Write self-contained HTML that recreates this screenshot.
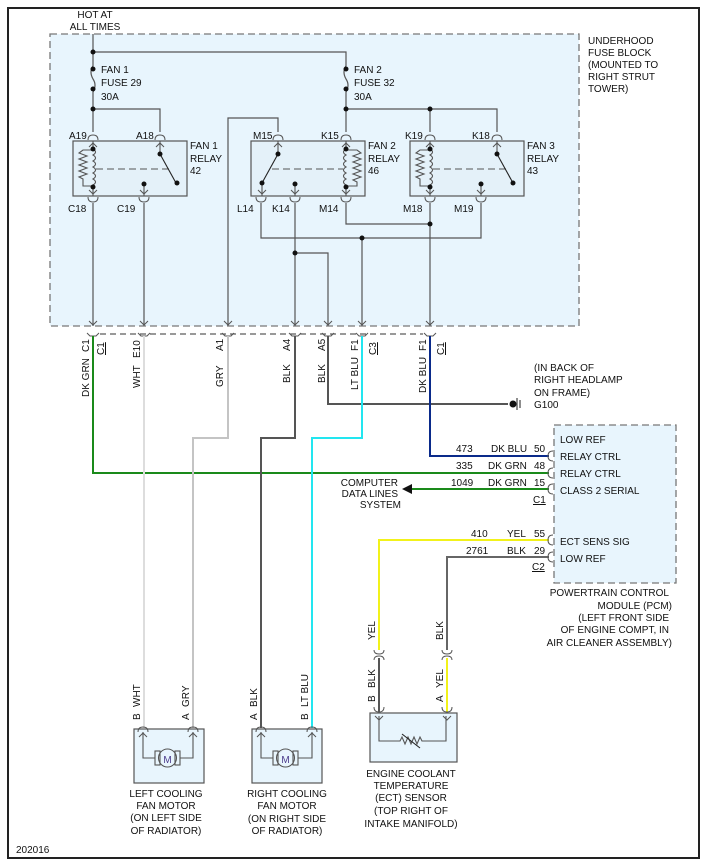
<!DOCTYPE html>
<html><head><meta charset="utf-8"><style>
html,body{margin:0;padding:0;background:#fff}
svg{display:block}
text{font-family:"Liberation Sans",sans-serif;font-size:10px;fill:#111}
</style></head><body>
<svg width="710" height="866" viewBox="0 0 710 866" xmlns="http://www.w3.org/2000/svg">
<defs>
<g id="ct"><path d="M-5,4 Q-5,-1 0,-1 Q5,-1 5,4" fill="none" stroke="#555" stroke-width="1"/></g>
<g id="cb"><path d="M-5,-4 Q-5,1 0,1 Q5,1 5,-4" fill="none" stroke="#555" stroke-width="1"/></g>
<g id="au"><path d="M-4,4 L0,0 L4,4" fill="none" stroke="#555" stroke-width="1"/></g>
<g id="ad"><path d="M-4,-4 L0,0 L4,-4" fill="none" stroke="#555" stroke-width="1"/></g>
</defs>
<rect x="8" y="8" width="691" height="850" fill="#fff" stroke="#222" stroke-width="2"/>
<rect x="50" y="34" width="529" height="292" fill="#e8f5fd" stroke="#777" stroke-width="1.3" stroke-dasharray="7,4"/>
<text x="95" y="18" text-anchor="middle">HOT AT</text>
<text x="95" y="30" text-anchor="middle">ALL TIMES</text>
<text x="588" y="44">UNDERHOOD</text>
<text x="588" y="56">FUSE BLOCK</text>
<text x="588" y="68">(MOUNTED TO</text>
<text x="588" y="80">RIGHT STRUT</text>
<text x="588" y="92">TOWER)</text>

<g stroke="#555" stroke-width="1.2" fill="none">
<path d="M93,34 V66 M93,92 V132 M93,52 H346 V66 M346,92 V132 M93,109 H160 V132 M346,109 H497 V132 M430,109 V132"/>
<path d="M93,66 Q89,72 93,79 Q97,85 93,92 M346,66 Q342,72 346,79 Q350,85 346,92"/>
<path d="M93,203 V326 M144,203 V326 M278,132 V118 H228 V326 M295,203 V326 M295,253 H328 V326 M261,203 V238 H481 V203 M362,238 V326 M346,203 V224 H430 M430,203 V326"/>
</g>
<g fill="#111">
<circle cx="93" cy="52" r="2.5"/><circle cx="93" cy="69" r="2.5"/><circle cx="93" cy="89" r="2.5"/><circle cx="93" cy="109" r="2.5"/>
<circle cx="346" cy="69" r="2.5"/><circle cx="346" cy="89" r="2.5"/><circle cx="346" cy="109" r="2.5"/><circle cx="430" cy="109" r="2.5"/>
<circle cx="362" cy="238" r="2.5"/><circle cx="295" cy="253" r="2.5"/><circle cx="430" cy="224" r="2.5"/>
</g>
<text x="101" y="73">FAN 1</text><text x="101" y="86">FUSE 29</text><text x="101" y="100">30A</text>
<text x="354" y="73">FAN 2</text><text x="354" y="86">FUSE 32</text><text x="354" y="100">30A</text>

<g fill="#e4f1f9" stroke="#555" stroke-width="1.2">
<rect x="73" y="141" width="114" height="55"/>
<rect x="251" y="141" width="114" height="55"/>
<rect x="410" y="141" width="114" height="55"/>
</g>
<g stroke="#555" stroke-width="1.1" fill="none">
<path d="M93,141 V149 M93,187 V196 M160,141 V154 M144,184 V196"/>
<path d="M93,149 q5,3 0,6 q5,3 0,6 q5,3 0,6 q5,3 0,6 q5,3 0,6 q5,3 0,6 V187"/>
<path d="M93,150 H83 l-4,3 8,3 -8,3 8,3 -8,3 8,3 -8,3 8,3 -8,3 4,2 V186 H93"/>
<path d="M96,169 H170" stroke-dasharray="7,4"/>
<path d="M160,154 L176,183" stroke="#222"/>
<path d="M278,141 V154 M262,183 V196 M295,184 V196 M346,141 V149 M346,187 V196"/>
<path d="M346,149 q-5,3 0,6 q-5,3 0,6 q-5,3 0,6 q-5,3 0,6 q-5,3 0,6 q-5,3 0,6 V187"/>
<path d="M346,150 H357 l4,3 -8,3 8,3 -8,3 8,3 -8,3 8,3 -8,3 8,3 -8,3 4,2 V186 H346"/>
<path d="M272,169 H343" stroke-dasharray="7,4"/>
<path d="M278,154 L262,183" stroke="#222"/>
<path d="M430,141 V149 M430,187 V196 M497,141 V154 M481,184 V196"/>
<path d="M430,149 q5,3 0,6 q5,3 0,6 q5,3 0,6 q5,3 0,6 q5,3 0,6 q5,3 0,6 V187"/>
<path d="M430,150 H420 l-4,3 8,3 -8,3 8,3 -8,3 8,3 -8,3 8,3 -8,3 4,2 V186 H430"/>
<path d="M433,169 H507" stroke-dasharray="7,4"/>
<path d="M497,154 L513,183" stroke="#222"/>
</g>
<g fill="#111">
<circle cx="93" cy="149" r="2.5"/><circle cx="93" cy="187" r="2.5"/><circle cx="160" cy="154" r="2.5"/><circle cx="177" cy="183" r="2.5"/><circle cx="144" cy="184" r="2.5"/>
<circle cx="346" cy="149" r="2.5"/><circle cx="346" cy="187" r="2.5"/><circle cx="278" cy="154" r="2.5"/><circle cx="262" cy="183" r="2.5"/><circle cx="295" cy="184" r="2.5"/>
<circle cx="430" cy="149" r="2.5"/><circle cx="430" cy="187" r="2.5"/><circle cx="497" cy="154" r="2.5"/><circle cx="513" cy="183" r="2.5"/><circle cx="481" cy="184" r="2.5"/>
</g>
<use href="#ct" x="93" y="136"/><use href="#ct" x="160" y="136"/><use href="#ct" x="278" y="136"/><use href="#ct" x="346" y="136"/><use href="#ct" x="430" y="136"/><use href="#ct" x="497" y="136"/>
<use href="#au" x="93" y="143"/><use href="#au" x="160" y="143"/><use href="#au" x="278" y="143"/><use href="#au" x="346" y="143"/><use href="#au" x="430" y="143"/><use href="#au" x="497" y="143"/>
<use href="#ad" x="93" y="194"/><use href="#ad" x="144" y="194"/><use href="#ad" x="262" y="194"/><use href="#ad" x="295" y="194"/><use href="#ad" x="346" y="194"/><use href="#ad" x="430" y="194"/><use href="#ad" x="481" y="194"/>
<use href="#cb" x="93" y="201"/><use href="#cb" x="144" y="201"/><use href="#cb" x="261" y="201"/><use href="#cb" x="295" y="201"/><use href="#cb" x="346" y="201"/><use href="#cb" x="430" y="201"/><use href="#cb" x="481" y="201"/>
<text x="69" y="139">A19</text><text x="136" y="139">A18</text><text x="253" y="139">M15</text><text x="321" y="139">K15</text><text x="405" y="139">K19</text><text x="472" y="139">K18</text>
<text x="68" y="212">C18</text><text x="117" y="212">C19</text><text x="237" y="212">L14</text><text x="272" y="212">K14</text><text x="319" y="212">M14</text><text x="403" y="212">M18</text><text x="454" y="212">M19</text>
<text x="190" y="149">FAN 1</text><text x="190" y="162">RELAY</text><text x="190" y="174">42</text>
<text x="368" y="149">FAN 2</text><text x="368" y="162">RELAY</text><text x="368" y="174">46</text>
<text x="527" y="149">FAN 3</text><text x="527" y="162">RELAY</text><text x="527" y="174">43</text>

<g>
<use href="#ad" x="93" y="325"/><use href="#ad" x="144" y="325"/><use href="#ad" x="228" y="325"/><use href="#ad" x="295" y="325"/><use href="#ad" x="328" y="325"/><use href="#ad" x="362" y="325"/><use href="#ad" x="430" y="325"/>
</g>
<path d="M100,334 H423" stroke="#333" stroke-width="1" stroke-dasharray="6,4" fill="none"/>
<g fill="none" stroke="#555" stroke-width="1">
<path d="M87,333 L90,336 H96 L99,333 M138,333 L141,336 H147 L150,333 M222,333 L225,336 H231 L234,333 M289,333 L292,336 H298 L301,333 M322,333 L325,336 H331 L334,333 M356,333 L359,336 H365 L368,333 M424,333 L427,336 H433 L436,333"/>
</g>

<g fill="none" stroke-width="2">
<path d="M93,336 V473 H549" stroke="#1a8a1a"/>
<path d="M549,489 H412" stroke="#1a8a1a"/>
<path d="M144,336 V728" stroke="#ddd"/>
<path d="M228,336 V438 H193 V728" stroke="#c4c4c4"/>
<path d="M295,336 V438 H261 V728" stroke="#555"/>
<path d="M328,336 V404 H508" stroke="#555"/>
<path d="M362,336 V438 H312 V728" stroke="#22e6f0"/>
<path d="M430,336 V456 H549" stroke="#0a2a8a"/>
<path d="M549,540 H379 V650" stroke="#f2f21a"/>
<path d="M549,557 H447 V650" stroke="#666"/>
<path d="M379,658 V712" stroke="#555"/>
<path d="M447,658 V712" stroke="#f2f21a"/>
</g>
<polygon points="402,489 412,484 412,494" fill="#111"/>
<circle cx="513" cy="404" r="3.5" fill="#111"/>
<path d="M517,398 V410 M520,400 V408" stroke="#444" stroke-width="1.2"/>
<text x="534" y="408">G100</text>
<text x="534" y="371">(IN BACK OF</text><text x="534" y="383">RIGHT HEADLAMP</text><text x="534" y="396">ON FRAME)</text>

<g font-size="10">
<text transform="translate(89,397) rotate(-90)">DK GRN</text>
<text transform="translate(89,352) rotate(-90)">C1</text>
<text transform="translate(104,355) rotate(-90)" text-decoration="underline">C1</text>
<text transform="translate(140,388) rotate(-90)">WHT</text>
<text transform="translate(140,358) rotate(-90)">E10</text>
<text transform="translate(223,387) rotate(-90)">GRY</text>
<text transform="translate(223,351) rotate(-90)">A1</text>
<text transform="translate(290,383) rotate(-90)">BLK</text>
<text transform="translate(290,351) rotate(-90)">A4</text>
<text transform="translate(325,383) rotate(-90)">BLK</text>
<text transform="translate(325,351) rotate(-90)">A5</text>
<text transform="translate(358,390) rotate(-90)">LT BLU</text>
<text transform="translate(358,351) rotate(-90)">F1</text>
<text transform="translate(376,355) rotate(-90)" text-decoration="underline">C3</text>
<text transform="translate(426,393) rotate(-90)">DK BLU</text>
<text transform="translate(426,351) rotate(-90)">F1</text>
<text transform="translate(444,355) rotate(-90)" text-decoration="underline">C1</text>
<text transform="translate(375,640) rotate(-90)">YEL</text>
<text transform="translate(443,640) rotate(-90)">BLK</text>
<text transform="translate(375,702) rotate(-90)">B</text>
<text transform="translate(375,688) rotate(-90)">BLK</text>
<text transform="translate(443,702) rotate(-90)">A</text>
<text transform="translate(443,688) rotate(-90)">YEL</text>
<text transform="translate(140,720) rotate(-90)">B</text>
<text transform="translate(140,707) rotate(-90)">WHT</text>
<text transform="translate(189,720) rotate(-90)">A</text>
<text transform="translate(189,707) rotate(-90)">GRY</text>
<text transform="translate(257,720) rotate(-90)">A</text>
<text transform="translate(257,707) rotate(-90)">BLK</text>
<text transform="translate(308,720) rotate(-90)">B</text>
<text transform="translate(308,707) rotate(-90)">LT BLU</text>
</g>
<g fill="none" stroke="#555" stroke-width="1">
<path d="M374,650 Q374,654 379,654 Q384,654 384,650 M374,660 Q374,656 379,656 Q384,656 384,660"/>
<path d="M442,650 Q442,654 447,654 Q452,654 452,650 M442,660 Q442,656 447,656 Q452,656 452,660"/>
</g>

<rect x="554" y="425" width="122" height="158" fill="#e8f5fd" stroke="#777" stroke-width="1.3" stroke-dasharray="7,4"/>
<g fill="none" stroke="#555" stroke-width="1">
<path d="M553,451 Q548,451 548,456 Q548,461 553,461"/>
<path d="M553,468 Q548,468 548,473 Q548,478 553,478"/>
<path d="M553,484 Q548,484 548,489 Q548,494 553,494"/>
<path d="M553,535 Q548,535 548,540 Q548,545 553,545"/>
<path d="M553,552 Q548,552 548,557 Q548,562 553,562"/>
</g>
<text x="560" y="443">LOW REF</text><text x="560" y="460">RELAY CTRL</text><text x="560" y="477">RELAY CTRL</text><text x="560" y="494">CLASS 2 SERIAL</text>
<text x="560" y="545">ECT SENS SIG</text><text x="560" y="562">LOW REF</text>
<text x="456" y="452">473</text><text x="491" y="452">DK BLU</text><text x="534" y="452">50</text>
<text x="456" y="469">335</text><text x="488" y="469">DK GRN</text><text x="534" y="469">48</text>
<text x="451" y="486">1049</text><text x="488" y="486">DK GRN</text><text x="534" y="486">15</text>
<text x="533" y="503" text-decoration="underline">C1</text>
<text x="471" y="537">410</text><text x="507" y="537">YEL</text><text x="534" y="537">55</text>
<text x="466" y="554">2761</text><text x="507" y="554">BLK</text><text x="534" y="554">29</text>
<text x="532" y="570" text-decoration="underline">C2</text>
<text x="398" y="486" text-anchor="end">COMPUTER</text><text x="398" y="497" text-anchor="end">DATA LINES</text><text x="401" y="508" text-anchor="end">SYSTEM</text>
<text x="669" y="596" text-anchor="end">POWERTRAIN CONTROL</text><text x="672" y="609" text-anchor="end">MODULE (PCM)</text><text x="669" y="621" text-anchor="end">(LEFT FRONT SIDE</text><text x="669" y="633" text-anchor="end">OF ENGINE COMPT, IN</text><text x="672" y="646" text-anchor="end">AIR CLEANER ASSEMBLY)</text>

<g fill="#e8f5fd" stroke="#555" stroke-width="1.2">
<rect x="134" y="729" width="70" height="54"/>
<rect x="252" y="729" width="70" height="54"/>
<rect x="370" y="713" width="87" height="49"/>
</g>
<g fill="none" stroke="#555" stroke-width="1.1">
<path d="M143,732 V758 H155 M193,732 V758 H180"/>
<path d="M261,732 V758 H273 M312,732 V758 H298"/>
<rect x="155" y="751" width="5" height="14"/><rect x="175" y="751" width="5" height="14"/>
<rect x="273" y="751" width="5" height="14"/><rect x="293" y="751" width="5" height="14"/>
<circle cx="167.5" cy="758" r="9"/><circle cx="285.5" cy="758" r="9"/>
<path d="M379,716 V741 H400 l2,-4 3,7 3,-7 3,7 3,-7 3,7 3,-7 2,4 H446 V716"/>
<path d="M402,734 L420,748" stroke="#222"/>
</g>
<use href="#ct" x="143" y="728"/><use href="#ct" x="193" y="728"/><use href="#ct" x="261" y="728"/><use href="#ct" x="312" y="728"/>
<use href="#au" x="143" y="733"/><use href="#au" x="193" y="733"/><use href="#au" x="261" y="733"/><use href="#au" x="312" y="733"/>
<use href="#cb" x="379" y="711"/><use href="#cb" x="447" y="711"/>
<path d="M375,716 L379,720 L383,716 M443,716 L447,720 L451,716" stroke="#555" fill="none"/>
<text x="167.5" y="763" text-anchor="middle" font-size="13" style="fill:#4a3a8a">M</text>
<text x="285.5" y="763" text-anchor="middle" font-size="13" style="fill:#4a3a8a">M</text>
<g text-anchor="middle">
<text x="166" y="797">LEFT COOLING</text><text x="166" y="809">FAN MOTOR</text><text x="166" y="821">(ON LEFT SIDE</text><text x="166" y="834">OF RADIATOR)</text>
<text x="287" y="797">RIGHT COOLING</text><text x="287" y="809">FAN MOTOR</text><text x="287" y="822">(ON RIGHT SIDE</text><text x="287" y="834">OF RADIATOR)</text>
<text x="411" y="777">ENGINE COOLANT</text><text x="411" y="789">TEMPERATURE</text><text x="411" y="801">(ECT) SENSOR</text><text x="411" y="814">(TOP RIGHT OF</text><text x="411" y="827">INTAKE MANIFOLD)</text>
</g>
<text x="16" y="853">202016</text>
</svg>
</body></html>
